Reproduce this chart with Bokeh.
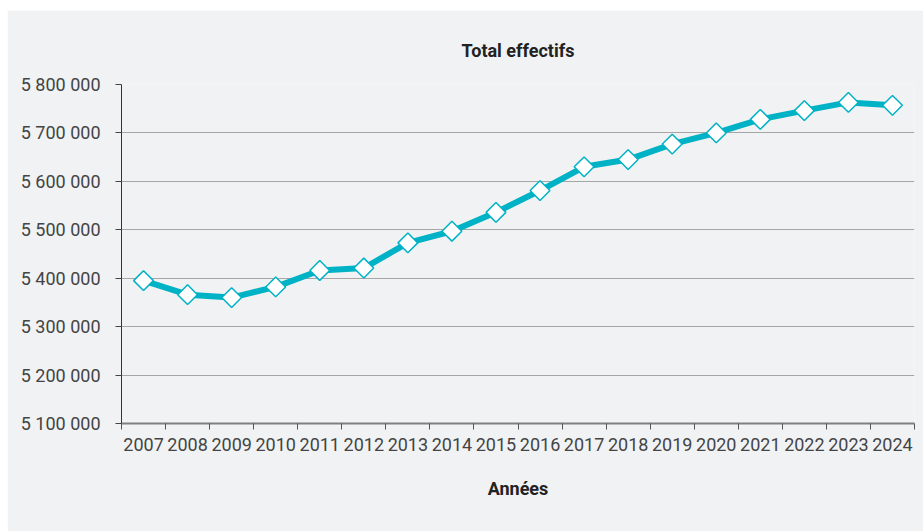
from bokeh.plotting import figure
from bokeh.models import FixedTicker, Range1d, Title, Spacer
from bokeh.layouts import column, row
from bokeh.embed import file_html
from bokeh.resources import INLINE

years = [2007, 2008, 2009, 2010, 2011, 2012, 2013, 2014, 2015, 2016,
         2017, 2018, 2019, 2020, 2021, 2022, 2023, 2024]
effectifs = [5395000, 5366000, 5360000, 5382000, 5416000, 5421000, 5473000,
             5497000, 5536000, 5581000, 5630000, 5645000, 5677000, 5700000,
             5728000, 5746000, 5763000, 5757000]
y_ticks = [5100000, 5200000, 5300000, 5400000, 5500000, 5600000, 5700000, 5800000]
y_tick_labels = ["5 100 000", "5 200 000", "5 300 000", "5 400 000",
                 "5 500 000", "5 600 000", "5 700 000", "5 800 000"]
year_labels = [str(y) for y in years]
title_text = "Total effectifs"
x_title = "Années"

BG = "#f1f2f4"
CYAN = "#00b2c5"
FONT = "Roboto"

p = figure(width=916, height=521, output_backend="svg", toolbar_location=None,
           x_range=Range1d(years[0] - 0.5, years[-1] + 0.5),
           y_range=Range1d(y_ticks[0], y_ticks[-1]),
           background_fill_color=BG, border_fill_color=BG,
           min_border_left=114, min_border_right=9, min_border_top=74,
           min_border_bottom=108)
p.outline_line_color = None
p.title = Title(text=title_text, align="center", text_font=FONT,
                text_font_size="18px", text_font_style="bold",
                text_color="#222222", standoff=47)

# x axis: labels at centers, ticks at category boundaries
xt = FixedTicker(ticks=years, minor_ticks=[y - 0.5 for y in years] + [years[-1] + 0.5])
p.xaxis.ticker = xt
p.xaxis.major_label_overrides = {y: l for y, l in zip(years, year_labels)}
p.xaxis.major_tick_out = 0
p.xaxis.major_tick_in = 0
p.xaxis.minor_tick_out = 6
p.xaxis.minor_tick_in = 0
p.xaxis.minor_tick_line_color = "#555555"
p.xaxis.axis_line_color = "#808080"
p.xaxis.axis_line_width = 2
p.xaxis.major_label_text_font = FONT
p.xaxis.major_label_text_font_size = "18px"
p.xaxis.major_label_text_color = "#444444"
p.xaxis.major_label_standoff = 8
p.xaxis.axis_label = x_title
p.xaxis.axis_label_text_font = FONT
p.xaxis.axis_label_text_font_size = "18px"
p.xaxis.axis_label_text_font_style = "bold"
p.xaxis.axis_label_text_color = "#222222"
p.xaxis.axis_label_standoff = 24

p.yaxis.ticker = FixedTicker(ticks=y_ticks, minor_ticks=[])
p.yaxis.major_label_overrides = {t: l for t, l in zip(y_ticks, y_tick_labels)}
p.yaxis.major_tick_out = 6
p.yaxis.major_tick_in = 0
p.yaxis.major_tick_line_color = "#444444"
p.yaxis.axis_line_color = "#333333"
p.yaxis.axis_line_width = 1
p.yaxis.major_label_text_font = FONT
p.yaxis.major_label_text_font_size = "18px"
p.yaxis.major_label_text_color = "#444444"
p.yaxis.major_label_standoff = 15

p.xgrid.grid_line_color = None
p.ygrid.grid_line_color = "#a6a6a6"
p.ygrid.grid_line_width = 1

p.line(years, effectifs, line_color=CYAN, line_width=6)
p.scatter(years, effectifs, marker="square", angle=0.785398, size=14,
          fill_color="white", line_color=CYAN, line_width=1.5)

layout = column(Spacer(height=10, width=923), row(Spacer(width=7, height=521), p))
open("out.html", "w").write(file_html(layout, INLINE))
